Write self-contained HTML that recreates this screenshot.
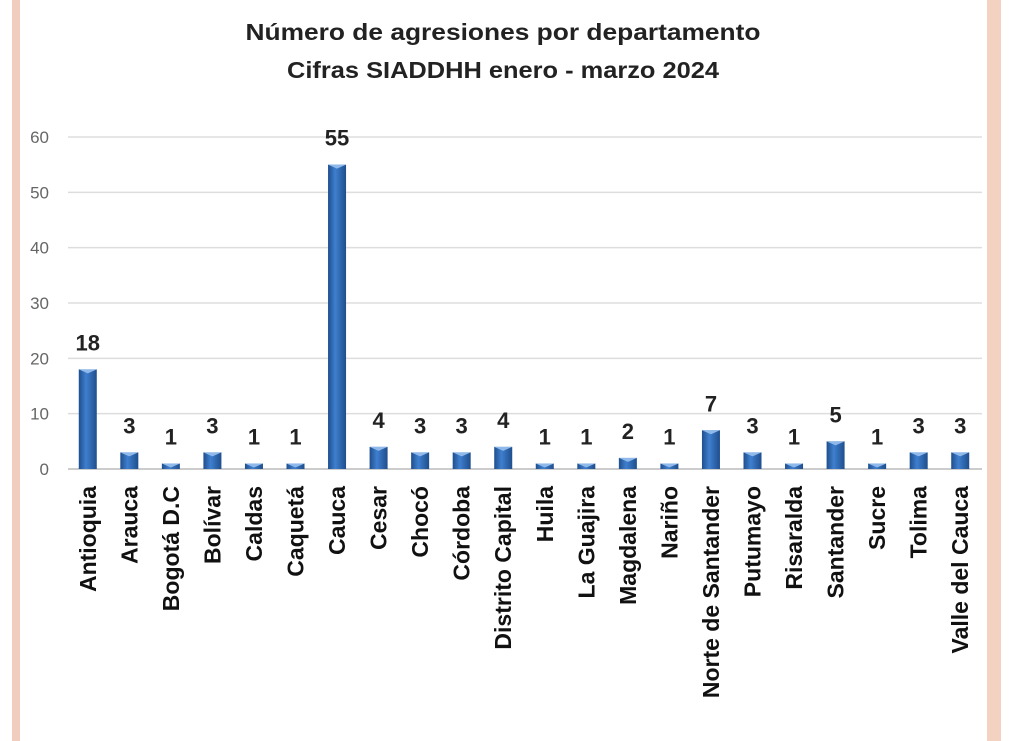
<!DOCTYPE html>
<html><head><meta charset="utf-8"><style>
html,body{margin:0;padding:0;background:#fff;}
svg{display:block;font-family:"Liberation Sans",Arial,sans-serif;}
</style></head><body>
<svg width="1024" height="741" viewBox="0 0 1024 741">
<defs>
<linearGradient id="bg" x1="0" x2="1" y1="0" y2="0">
<stop offset="0" stop-color="#1f4e8c"/><stop offset="0.4" stop-color="#3f7fcf"/><stop offset="1" stop-color="#1f4e8c"/>
</linearGradient>
</defs>
<rect x="12" y="0" width="8" height="741" fill="#f0cdbd"/>
<rect x="987" y="0" width="14" height="741" fill="#f3d2c2"/>
<text x="503" y="40" text-anchor="middle" font-size="23" font-weight="bold" fill="#222" textLength="515" lengthAdjust="spacingAndGlyphs">Número de agresiones por  departamento</text>
<text x="503" y="78" text-anchor="middle" font-size="23" font-weight="bold" fill="#222" textLength="432" lengthAdjust="spacingAndGlyphs">Cifras SIADDHH enero - marzo 2024</text>
<g id="grid"></g><g id="bars"></g><g id="labels"></g>
</svg>
<script>
const categories=["Antioquia","Arauca","Bogotá D.C","Bolívar","Caldas","Caquetá","Cauca","Cesar","Chocó","Córdoba","Distrito Capital","Huila","La Guajira","Magdalena","Nariño","Norte de Santander","Putumayo","Risaralda","Santander","Sucre","Tolima","Valle del Cauca"];
const values=[18,3,1,3,1,1,55,4,3,3,4,1,1,2,1,7,3,1,5,1,3,3];
const yTicks=[0,10,20,30,40,50,60];
const NS="http://www.w3.org/2000/svg";
const x0=68,x1=982,yBase=469,yTop=137;
const y=v=>yBase-(v/60)*(yBase-yTop);
const step=(x1-x0)/categories.length;
const xc=i=>x0+step*(i+0.5)-1;
const grid=document.getElementById('grid'),bars=document.getElementById('bars'),labels=document.getElementById('labels');
function mk(tag,attrs,parent){const e=document.createElementNS(NS,tag);for(const k in attrs)e.setAttribute(k,attrs[k]);parent.appendChild(e);return e;}
yTicks.forEach(t=>{
 const l=mk('line',{x1:x0,x2:x1,y1:y(t),y2:y(t),stroke:t===0?'#bbb':'#ddd','stroke-width':1.5},grid);
 
 
 const tx=mk('text',{x:49,y:y(t)+6,'text-anchor':'end','font-size':17,fill:'#666'},grid);
 tx.textContent=t;
 
 
});
categories.forEach((c,i)=>{
 const v=values[i],bw=18,cx=xc(i),top=y(v);
 const r=mk('rect',{x:cx-bw/2,y:top,width:bw,height:yBase-top,fill:'url(#bg)'},bars);
 
 
 const cap=mk('polygon',{points:`${cx-bw/2},${top} ${cx+bw/2},${top} ${cx},${top+4}`,fill:'#8fb9ea'},bars);
 
 
 const vl=mk('text',{x:cx,y:top-19,'text-anchor':'middle','font-size':22,'font-weight':'bold',fill:'#222'},labels);
 vl.textContent=v;
 
 
 const xl=mk('text',{x:0,y:0,'text-anchor':'end','font-size':23,'font-weight':'bold',fill:'#111',transform:`translate(${cx+8},486) rotate(-90)`},labels);
 xl.textContent=c;
 
 
});
</script>
</body></html>
